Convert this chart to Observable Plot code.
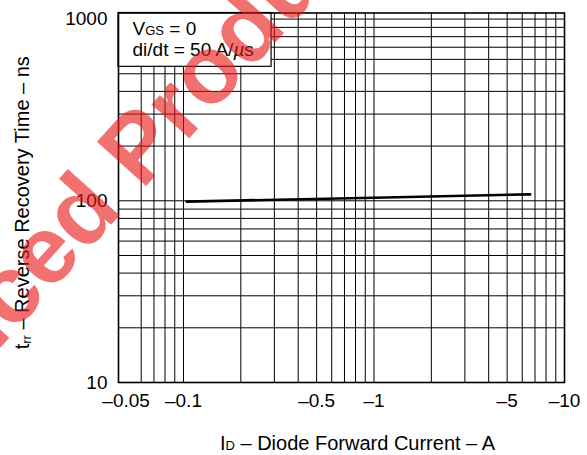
<!DOCTYPE html>
<html>
<head>
<meta charset="utf-8">
<script src="https://cdn.jsdelivr.net/npm/d3@7"></script>
<script src="https://cdn.jsdelivr.net/npm/@observablehq/plot@0.6"></script>
<style>
  html, body { margin: 0; padding: 0; background: #fff; }
  #chart { width: 587px; height: 455px; overflow: hidden; }
</style>
</head>
<body>
<div id="chart"></div>
<script>
// ---- data ----
const currentA = [0.104, 1, 6.6];          // |I_D| in A
const trrNs    = [99, 104, 108.5];         // t_rr in ns
const xTicks = [0.05, 0.1, 0.5, 1, 5, 10];
const yTicks = [10, 100, 1000];
const xGrid = [0.06, 0.07, 0.08, 0.09, 0.1, 0.2, 0.3, 0.4, 0.5, 0.6, 0.7, 0.8, 0.9, 1, 2, 3, 4, 5, 6, 7, 8, 9];
const yGrid = [20, 30, 40, 50, 60, 70, 80, 90, 100, 200, 300, 400, 500, 600, 700, 800, 900, 1000];
const noteLines = ["VGS = 0", "di/dt = 50 A/\u00b5s"];
const xLabel = "ID \u2013 Diode Forward Current \u2013 A";
const yLabel = "trr \u2013 Reverse Recovery Time \u2013 ns";
const watermark = "Advanced Product";

const xDomain = [0.0456, 10];
const yDomain = [10, 1080];
const noteBox = {x1: xDomain[0], x2: 0.29, y1: 546, y2: yDomain[1]};

const curve = currentA.map((x, i) => ({x, y: trrNs[i]}));
const font = "'Liberation Sans', Arial, Helvetica, sans-serif";

const svg = Plot.plot({
  width: 587,
  height: 455,
  marginLeft: 118,
  marginRight: 23,
  marginTop: 12.5,
  marginBottom: 73,
  style: {fontFamily: font, fontSize: "19px", color: "black", background: "white"},
  x: {type: "log", domain: xDomain, axis: null},
  y: {type: "log", domain: yDomain, axis: null},
  marks: [
    Plot.ruleX(xGrid, {stroke: "black", strokeWidth: 1}),
    Plot.ruleY(yGrid, {stroke: "black", strokeWidth: 1}),
    Plot.rect([noteBox], {x1: "x1", x2: "x2", y1: "y1", y2: "y2", fill: "white", stroke: "black", strokeWidth: 1.2}),
    Plot.text([noteLines[0]], {frameAnchor: "top-left", textAnchor: "start", lineAnchor: "bottom", dx: 14, dy: 22, fontSize: 19}),
    Plot.text([noteLines[1]], {frameAnchor: "top-left", textAnchor: "start", lineAnchor: "bottom", dx: 14, dy: 43, fontSize: 19}),
    Plot.line(curve, {x: "x", y: "y", stroke: "black", strokeWidth: 2.6}),
    Plot.frame({stroke: "black", strokeWidth: 1.6}),
    // tick labels, positioned by the scales
    Plot.text(xTicks, {x: d => d, frameAnchor: "bottom", lineAnchor: "top", dy: 11, fontSize: 19,
      text: d => "\u2013" + d, textAnchor: "middle"}),
    Plot.text(yTicks, {y: d => d, frameAnchor: "left", textAnchor: "end", lineAnchor: "middle", dx: -11, fontSize: 19,
      text: d => String(d)}),
    Plot.text([xLabel], {frameAnchor: "bottom", textAnchor: "middle", lineAnchor: "bottom", dx: 16, dy: 67.5, fontSize: 20}),
    Plot.text([yLabel], {frameAnchor: "left", textAnchor: "middle", lineAnchor: "bottom", rotate: -90, dx: -90, dy: 5, fontSize: 20}),
    Plot.text([watermark], {frameAnchor: "top-left", textAnchor: "start", lineAnchor: "bottom", rotate: -48,
      dx: -301.5, dy: 538.5, fontSize: 96, fontWeight: "bold", fill: "rgb(232,24,24)", fillOpacity: 0.62})
  ]
});

// rich text: subscripts and italic mu
d3.select(svg).selectAll("text").each(function () {
  const t = this.textContent;
  const sel = d3.select(this);
  if (t === noteLines[0]) {
    this.textContent = "";
    sel.append("tspan").text("V");
    sel.append("tspan").attr("font-size", 13).text("GS");
    sel.append("tspan").text(" = 0");
  } else if (t === noteLines[1]) {
    this.textContent = "";
    sel.append("tspan").text("di/dt = 50 A/");
    sel.append("tspan").attr("font-style", "italic").text("\u00b5");
    sel.append("tspan").text("s");
  } else if (t === xLabel) {
    this.textContent = "";
    sel.append("tspan").text("I");
    sel.append("tspan").attr("font-size", 13).text("D");
    sel.append("tspan").text(" \u2013 Diode Forward Current \u2013 A");
  } else if (t === yLabel) {
    this.textContent = "";
    sel.append("tspan").text("t");
    sel.append("tspan").attr("font-size", 13).attr("dy", 2).text("rr");
    sel.append("tspan").attr("dy", -2).text(" \u2013 Reverse Recovery Time \u2013 ns");
  }
});

document.getElementById("chart").appendChild(svg);
</script>
</body>
</html>
